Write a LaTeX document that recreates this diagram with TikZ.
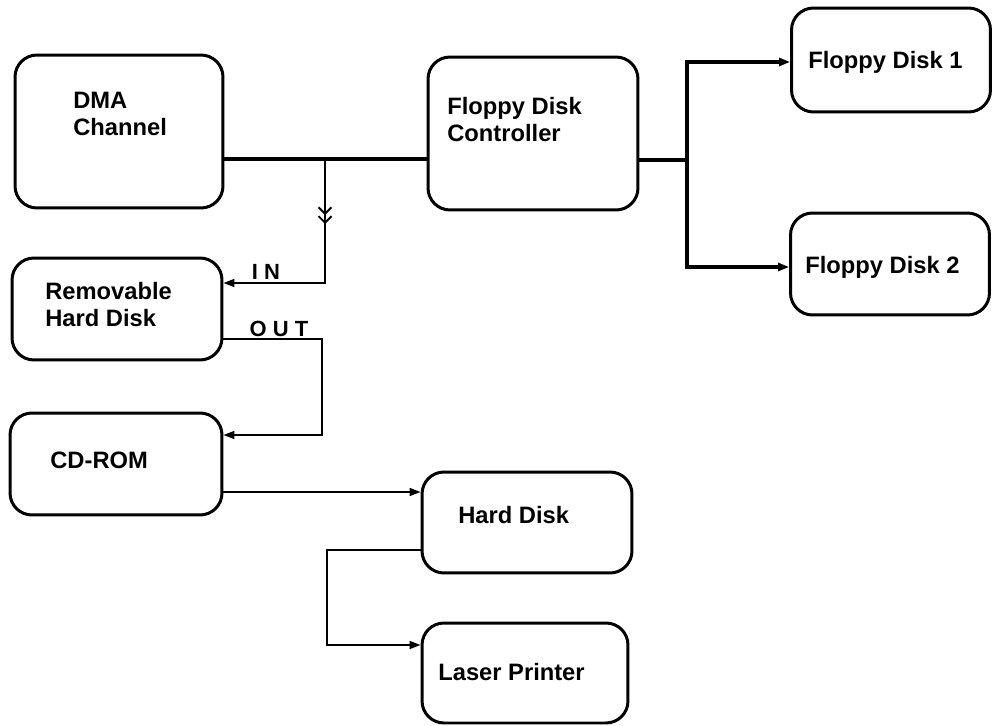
\documentclass[tikz,border=0pt]{standalone}
\usepackage{fontspec}
\setmainfont{Liberation Sans}
\usetikzlibrary{arrows.meta}

\begin{document}
\begin{tikzpicture}[x=0.02cm, y=-0.02cm,
    every node/.style={font=\bfseries\fontsize{13.5}{15.5}\selectfont},
    box/.style={draw, line width=1.7pt, rounded corners=0.44cm, inner sep=0pt},
    txt/.style={anchor=west, align=left, inner sep=0pt},
    port/.style={inner sep=0pt, font=\bfseries\fontsize{12.5}{14}\selectfont},
    bus/.style={line width=2pt},
    wire/.style={line width=0.9pt},
    tip/.style={-{Triangle[length=0.22cm, width=0.16cm]}}]
    \useasboundingbox (0,0) rectangle (994,726);
    % units and their labels
    \node[box, minimum width=4.16cm, minimum height=3.06cm] (dma) at (119,131.5) {};
    \node[box, minimum width=4.2cm, minimum height=3.06cm] (fdc) at (533,133.5) {};
    \node[box, minimum width=3.98cm, minimum height=2.08cm] (fd1) at (891,60) {};
    \node[box, minimum width=3.98cm, minimum height=2.04cm] (fd2) at (890,264) {};
    \node[box, minimum width=4.2cm, minimum height=2.04cm] (rhd) at (117,309) {};
    \node[box, minimum width=4.24cm, minimum height=2.04cm] (cdrom) at (116,464) {};
    \node[box, minimum width=4.2cm, minimum height=2.02cm] (hd) at (527,522.5) {};
    \node[box, minimum width=4.12cm, minimum height=2.0cm] (lp) at (525,673) {};
    \node[txt] (dma-t) at (73,114) {DMA\\Channel};
    \node[txt] (fdc-t) at (447,119.5) {Floppy Disk\\Controller};
    \node[txt] (fd1-t) at (808,62) {Floppy Disk 1};
    \node[txt] (fd2-t) at (805,267) {Floppy Disk 2};
    \node[txt] (rhd-t) at (45,304.5) {Removable\\Hard Disk};
    \node[txt] (cdrom-t) at (50,460) {CD-ROM};
    \node[txt] (hd-t) at (458,515) {Hard Disk};
    \node[txt] (lp-t) at (438,672) {Laser Printer};
    % bus and branches
    \coordinate (tap) at (325,159);
    \coordinate (chev) at (325,224);
    \coordinate (fork) at (687,160);
    \coordinate (inpt) at (325,283);
    \coordinate (outpt) at (322,339);
    \coordinate (cdin) at (322,435);
    \coordinate (cdout) at (300,492);
    \coordinate (hdout) at (327,550);
    \coordinate (lpin) at (327,645);
    \draw[bus] (dma.east |- tap) -- (fdc.west |- tap);
    \draw[bus] (fdc.east |- fork) -- (fork);
    \draw[bus, tip] (fork) |- (fd1.west |- 0,62);
    \draw[bus, tip] (fork) |- (fd2.west |- 0,267);
    \draw[wire, -{Straight Barb[length=0.13cm, width=0.26cm, line width=1.1pt] Straight Barb[length=0.13cm, width=0.26cm, line width=1.1pt]}] (tap) -- (chev);
    \draw[wire, tip] (tap) |- (rhd.east |- inpt);
    \draw[wire, tip] (rhd.east |- outpt) -| (cdin) -- (cdrom.east |- cdin);
    \draw[wire, tip] (cdrom.east |- cdout) -- (hd.west |- cdout);
    \draw[wire, tip] (hd.west |- hdout) -| (lpin) -- (lp.west |- lpin);
    \node[port] (in-t) at (266,272) {I N};
    \node[port] (out-t) at (279,329) {O U T};
\end{tikzpicture}
\end{document}
